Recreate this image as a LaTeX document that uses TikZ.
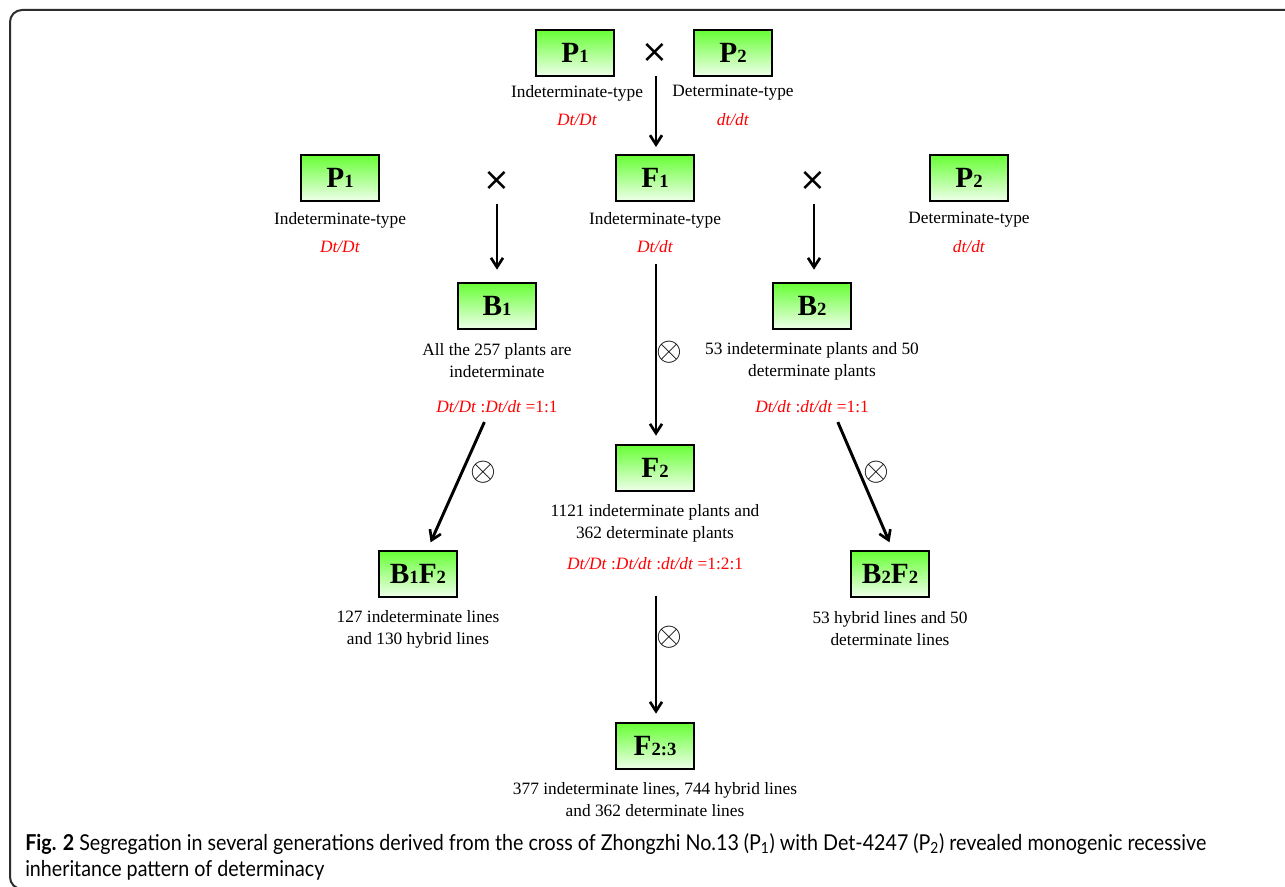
\documentclass[tikz,border=0pt]{standalone}
\usepackage{fontspec}
\setmainfont{Liberation Serif}
\newfontfamily\capfont[FakeStretch=0.9]{Lato}
\newfontfamily\symfont{DejaVu Sans}
\usetikzlibrary{positioning,arrows,arrows.meta}
\definecolor{boxtop}{RGB}{102,255,51}
\definecolor{boxbottom}{RGB}{240,255,236}
\definecolor{framegray}{RGB}{45,45,45}
\newcommand{\gen}[2]{#1{\fontsize{14}{14}\selectfont #2}}

\begin{document}
\begin{tikzpicture}[x=0.75pt, y=-0.75pt,
    genbox/.style={draw, line width=1.5pt, top color=boxtop, bottom color=boxbottom, minimum width=59pt, minimum height=35pt, inner sep=0pt, font=\fontsize{22}{24}\selectfont\bfseries},
    info/.style={align=center, inner sep=1pt, font=\fontsize{13}{16.5}\selectfont},
    geno/.style={text=red, inner sep=1pt, font=\fontsize{13}{16.5}\selectfont},
    cross/.style={font=\symfont\fontsize{24}{24}\selectfont, inner sep=0pt},
    selfing/.style={font=\fontsize{28}{28}\selectfont, inner sep=0pt},
    arrow/.style={-{Straight Barb[length=7pt,width=9pt,line width=2pt]}, line width=2.2pt}
]
\useasboundingbox (0,0) rectangle (1285,887);

% Frame
\draw[framegray, line width=1.5pt, rounded corners=9pt] (1300,889) -- (10,889) -- (10,10) -- (1300,10);

% Parents
\node[genbox] (p1top) at (575,53) {\gen{P}{1}};
\node[cross] (x1) at (655,53) {×};
\node[genbox] (p2top) at (733,53) {\gen{P}{2}};
\node[info] (p1toptype) at (577,93) {Indeterminate-type};
\node[geno] (p1topgeno) at (577,120) {\textit{Dt/Dt}};
\node[info] (p2toptype) at (733,93) {Determinate-type};
\node[geno] (p2topgeno) at (733,120) {\textit{dt/dt}};

% F1 and backcross parents
\node[genbox] (f1) at (655,178) {\gen{F}{1}};
\node[info] (f1type) at (655,220) {Indeterminate-type};
\node[geno] (f1geno) at (655,247) {\textit{Dt/dt}};

\node[genbox] (p1bc) at (340,178) {\gen{P}{1}};
\node[info] (p1bctype) at (340,220) {Indeterminate-type};
\node[geno] (p1bcgeno) at (340,247) {\textit{Dt/Dt}};
\node[cross] (x2) at (497,181) {×};

\node[genbox] (p2bc) at (969,178) {\gen{P}{2}};
\node[info] (p2bctype) at (969,220) {Determinate-type};
\node[geno] (p2bcgeno) at (969,247) {\textit{dt/dt}};
\node[cross] (x3) at (813,181) {×};

% Backcrosses
\node[genbox] (b1) at (497,306) {\gen{B}{1}};
\node[info] (b1res) at (497,361) {All the 257 plants are\\indeterminate};
\node[geno] (b1ratio) at (497,407) {\textit{Dt/Dt} :\textit{Dt/dt} =1:1};

\node[genbox] (b2) at (812,306) {\gen{B}{2}};
\node[info] (b2res) at (812,361) {53 indeterminate plants and 50\\determinate plants};
\node[geno] (b2ratio) at (812,407) {\textit{Dt/dt} :\textit{dt/dt} =1:1};

\node[genbox] (b1f2) at (418,574) {\gen{B}{1}\gen{F}{2}};
\node[info] (b1f2res) at (418,629) {127 indeterminate lines\\and 130 hybrid lines};

\node[genbox] (b2f2) at (890,574) {\gen{B}{2}\gen{F}{2}};
\node[info] (b2f2res) at (890,629) {53 hybrid lines and 50\\determinate lines};

% F2 and F2:3
\node[genbox] (f2) at (655,468) {\gen{F}{2}};
\node[info] (f2res) at (655,523) {1121 indeterminate plants and\\362 determinate plants};
\node[geno] (f2ratio) at (655,564) {\textit{Dt/Dt} :\textit{Dt/dt} :\textit{dt/dt} =1:2:1};

\node[genbox] (f23) at (655,746) {\gen{F}{2:3}};
\node[info] (f23res) at (655,800) {377 indeterminate lines, 744 hybrid lines\\and 362 determinate lines};

% Selfing marks
\node[selfing] (s1) at (669,352) {$\otimes$};
\node[selfing] (s2) at (483,472) {$\otimes$};
\node[selfing] (s3) at (876,472) {$\otimes$};
\node[selfing] (s4) at (669,637) {$\otimes$};

% Arrows
\draw[arrow, shorten <=10pt, shorten >=5pt] ([xshift=0.75pt]x1.south) -- ([xshift=0.75pt]f1.north);
\draw[arrow, shorten <=10pt, shorten >=9pt] (x2.south) -- (b1.north);
\draw[arrow, shorten <=10pt, shorten >=9pt] ([xshift=0.75pt]x3.south) -- ([xshift=1.5pt]b2.north);
\draw[arrow, shorten <=7pt, shorten >=6pt] ([xshift=0.75pt]f1geno.south) -- ([xshift=0.75pt]f2.north);
\draw[arrow, shorten <=6pt, shorten >=6pt] ([xshift=-7pt]b1ratio.south) -- ([xshift=7pt]b1f2.north);
\draw[arrow, shorten <=6pt, shorten >=6pt] ([xshift=17pt]b2ratio.south) -- ([xshift=2pt]b2f2.north);
\draw[arrow, shorten <=18pt, shorten >=6pt] ([xshift=0.75pt]f2ratio.south) -- ([xshift=0.75pt]f23.north);

% Caption
\node[anchor=north west, align=left, inner sep=0pt, font=\capfont\fontsize{16.4}{19.5}\selectfont] (caption) at (25,833)
  {\textbf{Fig. 2} Segregation in several generations derived from the cross of Zhongzhi No.13 (P\textsubscript{1}) with Det-4247 (P\textsubscript{2}) revealed monogenic recessive\\inheritance pattern of determinacy};

\end{tikzpicture}
\end{document}
